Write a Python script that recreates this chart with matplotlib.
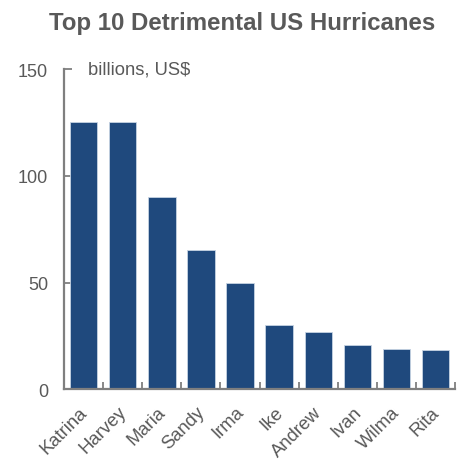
import matplotlib
matplotlib.use("Agg")
import matplotlib.pyplot as plt
import matplotlib.transforms as mtransforms
import numpy as np

names = ["Katrina", "Harvey", "Maria", "Sandy", "Irma", "Ike", "Andrew", "Ivan", "Wilma", "Rita"]
costs = [125, 125, 90, 65, 50, 30, 27, 20.5, 19, 18.4]
yticks = [0, 50, 100, 150]

plt.rcParams['font.family'] = ['Liberation Sans', 'DejaVu Sans']
gray = '#595959'
spine = '#7f7f7f'

fig = plt.figure(figsize=(4.64, 4.64), dpi=100)
ax = fig.add_axes([0.138, 0.159, 0.843, 0.69])
x = np.arange(len(names))
ax.bar(x, costs, width=0.7, color='#1f497d', edgecolor='#c6d3e3', linewidth=0.6, zorder=2)
ax.set_xlim(-0.5, len(names) - 0.5)
ax.set_ylim(0, 150)
ax.set_yticks(yticks)
ax.set_yticklabels([str(t) for t in yticks], color=gray, fontsize=13)
ax.tick_params(axis='y', direction='in', length=6, width=1.3, color=spine, pad=11.5)
ax.set_xticks(x)
ax.set_xticklabels(names, rotation=45, ha='right', rotation_mode='anchor', color=gray, fontsize=13.3)
ax.tick_params(axis='x', which='major', length=0, pad=10)
offset = mtransforms.ScaledTranslation(-5 / 100, 0, fig.dpi_scale_trans)
for lbl in ax.get_xticklabels():
    lbl.set_transform(lbl.get_transform() + offset)
ax.set_xticks(np.arange(-0.5, len(names), 1.0), minor=True)
ax.tick_params(axis='x', which='minor', direction='in', length=5, width=1.3, color=spine)
for s in ['top', 'right']:
    ax.spines[s].set_visible(False)
for s in ['left', 'bottom']:
    ax.spines[s].set_color(spine)
    ax.spines[s].set_linewidth(1.6)
ax.text(0.1, 150, 'billions, US$', color=gray, fontsize=13.2, va='center', ha='left')
fig.suptitle('Top 10 Detrimental US Hurricanes', x=0.522, y=0.975, fontsize=17.3,
             fontweight='bold', color=gray)
fig.savefig('out.png', dpi=100, facecolor='white')
